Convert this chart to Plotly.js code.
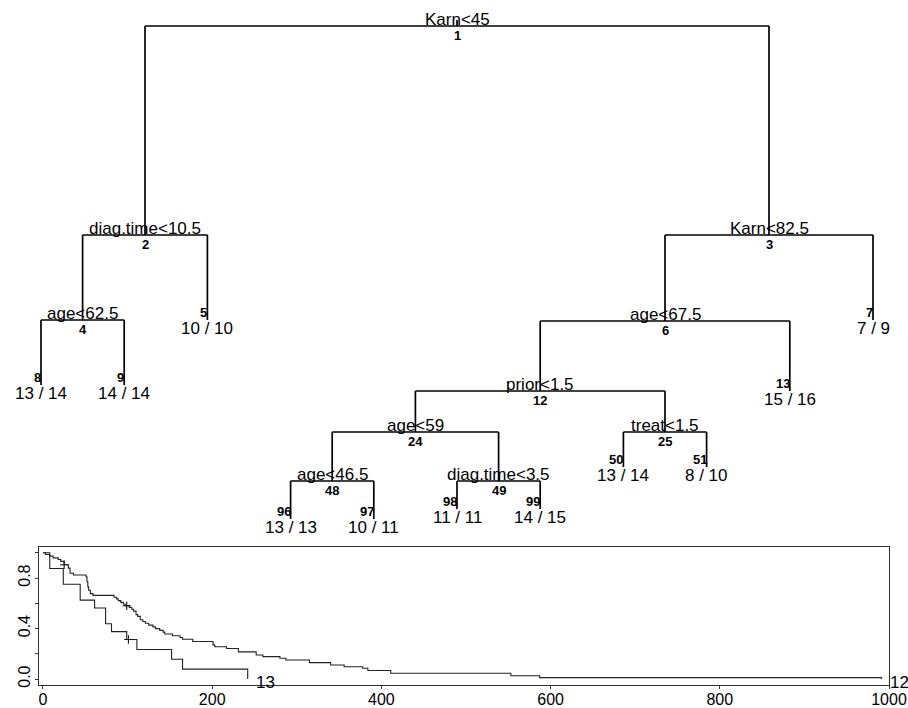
<!DOCTYPE html>
<html>
<head>
<meta charset="utf-8">
<script src="https://cdn.plot.ly/plotly-3.0.1.min.js"></script>
<style>
html,body{margin:0;padding:0;background:#fff;}
#chart{width:908px;height:708px;}
</style>
</head>
<body>
<div id="chart"></div>
<script>
// ---- Tree data (rpart node numbering: children of k are 2k and 2k+1) ----
const nodeIds   = [1, 2, 3, 4, 5, 6, 7, 8, 9, 12, 13, 24, 25, 48, 49, 50, 51, 96, 97, 98, 99];
const nodeDepth = [0, 209, 209, 294, 294, 295, 294, 359, 359, 365, 365, 406, 406, 455, 455, 441, 441, 493, 493, 483, 483];
const splitText = ["Karn<45", "diag.time<10.5", "Karn<82.5", "age<62.5", "", "age<67.5", "", "", "", "prior<1.5", "",
                   "age<59", "treat<1.5", "age<46.5", "diag.time<3.5", "", "", "", "", "", ""];
const leafText  = ["", "", "", "", "10 / 10", "", "7 / 9", "13 / 14", "14 / 14", "", "15 / 16",
                   "", "", "", "", "13 / 14", "8 / 10", "13 / 13", "10 / 11", "11 / 11", "14 / 15"];

// ---- Kaplan-Meier curves for nodes 12 and 13 ----
const km12Time = [0, 3, 8, 12, 18, 21, 25, 30, 32, 36, 51, 52, 53, 54, 56, 59, 84, 87, 89, 92,
                  95, 97, 102, 105, 107, 110, 112, 115, 118, 121, 125, 130, 133, 138, 142, 144, 153, 162, 165, 177,
                  201, 203, 217, 231, 252, 260, 280, 287, 315, 340, 356, 378, 384, 411, 553, 587, 991];
const km12Surv = [1, 0.986, 0.973, 0.959, 0.946, 0.932, 0.905, 0.878, 0.838, 0.824, 0.81, 0.77, 0.73, 0.703, 0.676, 0.662, 0.648, 0.635, 0.621, 0.607,
                  0.594, 0.58, 0.566, 0.552, 0.538, 0.51, 0.496, 0.469, 0.455, 0.441, 0.427, 0.413, 0.399, 0.385, 0.371, 0.357, 0.343, 0.329, 0.315, 0.297,
                  0.27, 0.256, 0.242, 0.215, 0.19, 0.177, 0.164, 0.15, 0.13, 0.111, 0.097, 0.085, 0.067, 0.045, 0.026, 0.011, 0];
const km12CensTime = [25, 99];
const km12CensSurv = [0.905, 0.58];

const km13Time = [0, 8, 24, 44, 61, 74, 81, 99, 111, 152, 165, 242];
const km13Surv = [1, 0.875, 0.75, 0.625, 0.5625, 0.4375, 0.375, 0.3125, 0.234, 0.156, 0.078, 0];
const km13CensTime = [101];
const km13CensSurv = [0.3125];

const curveLabels = ["12", "13"];
const xTicks = [0, 200, 400, 600, 800, 1000];
const yTicks = [0, 0.2, 0.4, 0.6, 0.8, 1.0];
const yTickText = ["0.0", "", "0.4", "", "0.8", ""];

// ---- Layout of the tree from its structure ----
const idx = {};
nodeIds.forEach((n, i) => idx[n] = i);
const isLeaf = n => !(2 * n in idx);
const xPos = {};
let leafCounter = 0;
function place(n) {
  if (isLeaf(n)) { leafCounter += 1; xPos[n] = leafCounter; return; }
  place(2 * n); place(2 * n + 1);
  xPos[n] = (xPos[2 * n] + xPos[2 * n + 1]) / 2;
}
place(1);

const lx = [], ly = [];
// root stub
lx.push(xPos[1], xPos[1], null); ly.push(nodeDepth[idx[1]] - 6, nodeDepth[idx[1]], null);
nodeIds.forEach(n => {
  if (isLeaf(n)) return;
  const d = nodeDepth[idx[n]];
  const L = 2 * n, R = 2 * n + 1;
  lx.push(xPos[L], xPos[R], null); ly.push(d, d, null);
  lx.push(xPos[L], xPos[L], null); ly.push(d, nodeDepth[idx[L]], null);
  lx.push(xPos[R], xPos[R], null); ly.push(d, nodeDepth[idx[R]], null);
});

const FONT = "Liberation Sans, Arial, Helvetica, sans-serif";
const annotations = [];
nodeIds.forEach((n, i) => {
  const x = xPos[n], d = nodeDepth[i];
  if (!isLeaf(n)) {
    annotations.push({x: x, y: d, xref: 'x', yref: 'y', text: splitText[i], showarrow: false,
      xanchor: 'center', yanchor: 'middle', yshift: 7, font: {family: FONT, size: 17, color: '#000'}});
    annotations.push({x: x, y: d, xref: 'x', yref: 'y', text: '<b>' + n + '</b>', showarrow: false,
      xanchor: 'center', yanchor: 'middle', yshift: -9, font: {family: FONT, size: 13, color: '#000'}});
  } else {
    annotations.push({x: x, y: d, xref: 'x', yref: 'y', text: '<b>' + n + '</b>', showarrow: false,
      xanchor: 'right', yanchor: 'middle', xshift: 2, yshift: 8, font: {family: FONT, size: 13, color: '#000'}});
    annotations.push({x: x, y: d, xref: 'x', yref: 'y', text: leafText[i], showarrow: false,
      xanchor: 'center', yanchor: 'middle', yshift: -8, font: {family: FONT, size: 17, color: '#000'}});
  }
});

// curve end labels
annotations.push({x: km13Time[km13Time.length - 1], y: -0.024, xref: 'x2', yref: 'y2', text: curveLabels[1],
  showarrow: false, xanchor: 'left', yanchor: 'middle', xshift: 6, font: {family: FONT, size: 17, color: '#000'}});
annotations.push({x: km12Time[km12Time.length - 1], y: -0.024, xref: 'x2', yref: 'y2', text: curveLabels[0],
  showarrow: false, xanchor: 'left', yanchor: 'middle', xshift: 7, font: {family: FONT, size: 17, color: '#000'}});

const traces = [
  {x: lx, y: ly, xaxis: 'x', yaxis: 'y', mode: 'lines', line: {color: '#000', width: 1.7}, hoverinfo: 'skip', showlegend: false},
  {x: km12Time, y: km12Surv, xaxis: 'x2', yaxis: 'y2', mode: 'lines', line: {color: '#222', width: 1.1, shape: 'hv'}, hoverinfo: 'skip', showlegend: false},
  {x: km13Time, y: km13Surv, xaxis: 'x2', yaxis: 'y2', mode: 'lines', line: {color: '#222', width: 1.1, shape: 'hv'}, hoverinfo: 'skip', showlegend: false},
  {x: km12CensTime.concat(km13CensTime), y: km12CensSurv.concat(km13CensSurv), xaxis: 'x2', yaxis: 'y2', mode: 'markers',
   marker: {symbol: 'cross-thin', size: 6, line: {color: '#111', width: 1.1}}, hoverinfo: 'skip', showlegend: false}
];

const H = 708, W = 908;
const layout = {
  width: W, height: H,
  margin: {l: 0, r: 0, t: 0, b: 0},
  paper_bgcolor: '#fff', plot_bgcolor: 'rgba(0,0,0,0)',
  showlegend: false,
  font: {family: FONT, color: '#000'},
  xaxis: {domain: [0, 1], range: [1 - 41 / 83.2, 1 - 41 / 83.2 + W / 83.2], visible: false, fixedrange: true},
  yaxis: {domain: [(H - 540) / H, 1], range: [514, -26], visible: false, fixedrange: true},
  xaxis2: {domain: [39 / W, 889 / W], anchor: 'y2', range: [-4.7, 1000], tickvals: xTicks,
    ticks: 'outside', ticklen: 3, tickcolor: '#333', showline: true, mirror: true, linecolor: '#333', linewidth: 1,
    ticklabelstandoff: -3,
    showgrid: false, zeroline: false, tickfont: {family: FONT, size: 16, color: '#000'}, fixedrange: true},
  yaxis2: {domain: [(H - 685) / H, (H - 547) / H], anchor: 'x2', range: [-0.0475, 1.0455], tickvals: yTicks, ticktext: yTickText,
    tickangle: -90, ticks: 'outside', ticklen: 3, tickcolor: '#333', showline: true, mirror: true, linecolor: '#333', linewidth: 1,
    ticklabelstandoff: -1,
    showgrid: false, zeroline: false, tickfont: {family: FONT, size: 16, color: '#000'}, fixedrange: true},
  annotations: annotations
};

Plotly.newPlot('chart', traces, layout, {displayModeBar: false, staticPlot: true});
</script>
</body>
</html>
